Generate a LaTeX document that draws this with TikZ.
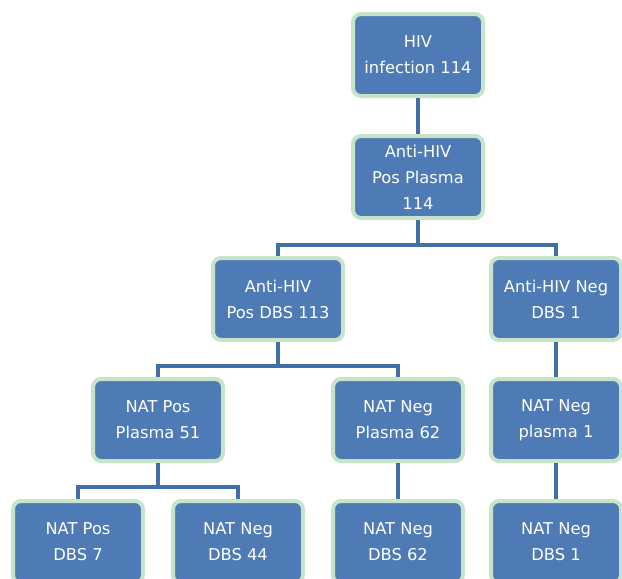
\documentclass[tikz,border=0pt]{standalone}
\usepackage{fontspec}
\setmainfont{DejaVu Sans}
\definecolor{boxfill}{HTML}{4E7AB5}
\definecolor{boxedge}{HTML}{C8E4C8}
\definecolor{linkcol}{HTML}{4070A6}
\tikzset{
  x=1pt,y=1pt,
  flowbox/.style={draw=boxedge, line width=4pt, fill=boxfill, rounded corners=8pt,
    minimum width=130pt, minimum height=82pt, inner sep=0pt, align=center,
    text=white, font=\fontsize{16.3pt}{26pt}\selectfont},
  link/.style={draw=linkcol, line width=4.5pt, line join=miter}
}
\begin{document}
\begin{tikzpicture}
\useasboundingbox (0,0) rectangle (622,-579);
\clip (0,0) rectangle (622,-579);
% nodes
\node[flowbox] (b1) at (418,-55) {HIV\\infection 114};
\node[flowbox] (b2) at (418,-177) {Anti-HIV\\Pos Plasma\\114};
\node[flowbox] (b3) at (278,-299) {Anti-HIV\\Pos DBS 113};
\node[flowbox] (b4) at (556,-299) {Anti-HIV Neg\\DBS 1};
\node[flowbox] (b5) at (158,-420) {NAT Pos\\Plasma 51};
\node[flowbox] (b6) at (398,-420) {NAT Neg\\Plasma 62};
\node[flowbox] (b7) at (556,-420) {NAT Neg\\plasma 1};
\node[flowbox] (b8) at (78,-542) {NAT Pos\\DBS 7};
\node[flowbox] (b9) at (238,-542) {NAT Neg\\DBS 44};
\node[flowbox] (b10) at (398,-542) {NAT Neg\\DBS 62};
\node[flowbox] (b11) at (556,-542) {NAT Neg\\DBS 1};
% junctions
\coordinate (j1) at (418,-245);
\coordinate (j2) at (278,-366);
\coordinate (j3) at (158,-487);
% connectors
\begin{scope}[on background layer/.style={}]
\end{scope}
\path[link] (b1.south) -- (b2.north);
\path[link] (b2.south) -- (j1) -| (b3.north);
\path[link] (j1) -| (b4.north);
\path[link] (b3.south) -- (j2) -| (b5.north);
\path[link] (j2) -| (b6.north);
\path[link] (b4.south) -- (b7.north);
\path[link] (b5.south) -- (j3) -| (b8.north);
\path[link] (j3) -| (b9.north);
\path[link] (b6.south) -- (b10.north);
\path[link] (b7.south) -- (b11.north);
\end{tikzpicture}
\end{document}
